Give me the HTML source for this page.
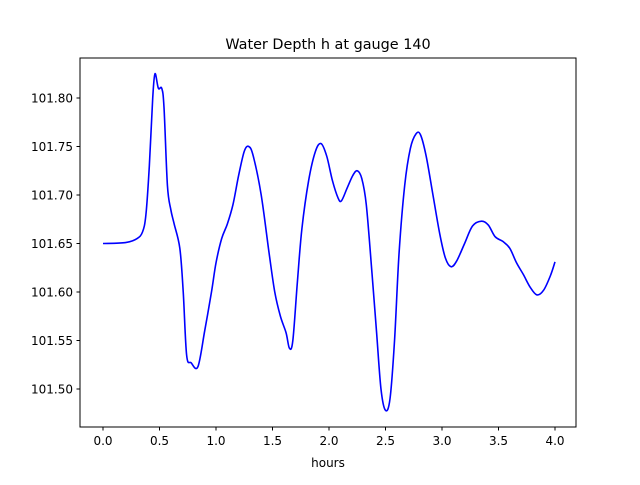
<!DOCTYPE html>
<html><head><meta charset="utf-8"><style>
body{margin:0;background:#fff;font-family:"Liberation Sans","DejaVu Sans",sans-serif}
svg text{font-family:"DejaVu Sans","Liberation Sans",sans-serif;font-size:12px;fill:#000}
</style></head><body>
<svg id="chart" width="640" height="480" viewBox="0 0 640 480">
<rect width="640" height="480" fill="#fff"/>
<text x="328" y="49" text-anchor="middle" style="font-size:14.4px">Water Depth h at gauge 140</text>
<g id="ticks"></g>
<path id="series" fill="none" stroke="#0000ff" stroke-width="1.6" stroke-linejoin="round"/>
<rect x="80" y="58" width="496" height="369" fill="none" stroke="#000" stroke-width="1"/>
<text x="328" y="467" text-anchor="middle">hours</text>
</svg>
<script>
const hours=[0,0.2,0.3,0.35,0.38,0.41,0.44,0.46,0.49,0.52,0.54,0.57,0.6,0.63,0.68,0.71,0.74,0.78,0.84,0.9,0.96,1.0,1.05,1.1,1.15,1.2,1.25,1.29,1.33,1.4,1.47,1.52,1.57,1.62,1.65,1.68,1.72,1.76,1.82,1.88,1.93,1.98,2.03,2.08,2.11,2.16,2.21,2.25,2.29,2.33,2.38,2.42,2.46,2.5,2.54,2.58,2.62,2.67,2.72,2.77,2.81,2.86,2.92,2.98,3.03,3.08,3.13,3.2,3.27,3.35,3.41,3.47,3.54,3.6,3.66,3.72,3.78,3.84,3.9,3.96,4.0];
const depth=[101.650,101.651,101.655,101.662,101.68,101.73,101.80,101.825,101.81,101.81,101.79,101.71,101.685,101.67,101.645,101.60,101.535,101.527,101.523,101.56,101.60,101.63,101.655,101.67,101.69,101.72,101.745,101.750,101.74,101.70,101.64,101.60,101.575,101.558,101.542,101.55,101.61,101.665,101.715,101.745,101.753,101.74,101.715,101.697,101.694,101.707,101.72,101.725,101.717,101.69,101.62,101.56,101.50,101.478,101.49,101.55,101.64,101.71,101.748,101.763,101.762,101.74,101.70,101.66,101.635,101.626,101.632,101.65,101.668,101.673,101.669,101.657,101.652,101.645,101.63,101.618,101.605,101.597,101.602,101.617,101.631];
const xTicks=[0,0.5,1,1.5,2,2.5,3,3.5,4];
const yTicks=[101.50,101.55,101.60,101.65,101.70,101.75,101.80];
const X=h=>103+h*113;
const Y=v=>98+(101.80-v)*970;
const NS="http://www.w3.org/2000/svg";
const g=document.getElementById('ticks');
xTicks.forEach(t=>{
  const l=document.createElementNS(NS,'line');
  
  
  l.setAttribute('x1',X(t));l.setAttribute('x2',X(t));l.setAttribute('y1',427);l.setAttribute('y2',430.5);l.setAttribute('stroke','#000');
  g.appendChild(l);
  const s=document.createElementNS(NS,'text');
  
  
  s.setAttribute('x',X(t));s.setAttribute('y',445);s.setAttribute('text-anchor','middle');
  s.textContent=t.toFixed(1);g.appendChild(s);
});
yTicks.forEach(t=>{
  const l=document.createElementNS(NS,'line');
  
  
  l.setAttribute('x1',76.5);l.setAttribute('x2',80);l.setAttribute('y1',Y(t));l.setAttribute('y2',Y(t));l.setAttribute('stroke','#000');
  g.appendChild(l);
  const s=document.createElementNS(NS,'text');
  
  
  s.setAttribute('x',73);s.setAttribute('y',Y(t)+4.5);s.setAttribute('text-anchor','end');
  s.textContent=t.toFixed(2);g.appendChild(s);
});
const p=[];
for(let i=0;i<hours.length;i++)p.push([X(hours[i]),Y(depth[i])]);
let d='M'+p[0][0]+','+p[0][1];
for(let i=0;i<p.length-1;i++){
  const p0=p[Math.max(0,i-1)],p1=p[i],p2=p[i+1],p3=p[Math.min(p.length-1,i+2)];
  const c1=[p1[0]+(p2[0]-p0[0])/6,p1[1]+(p2[1]-p0[1])/6];
  const c2=[p2[0]-(p3[0]-p1[0])/6,p2[1]-(p3[1]-p1[1])/6];
  d+=' C'+c1+' '+c2+' '+p2;
}
document.getElementById('series').setAttribute('d',d);
</script>
</body></html>
